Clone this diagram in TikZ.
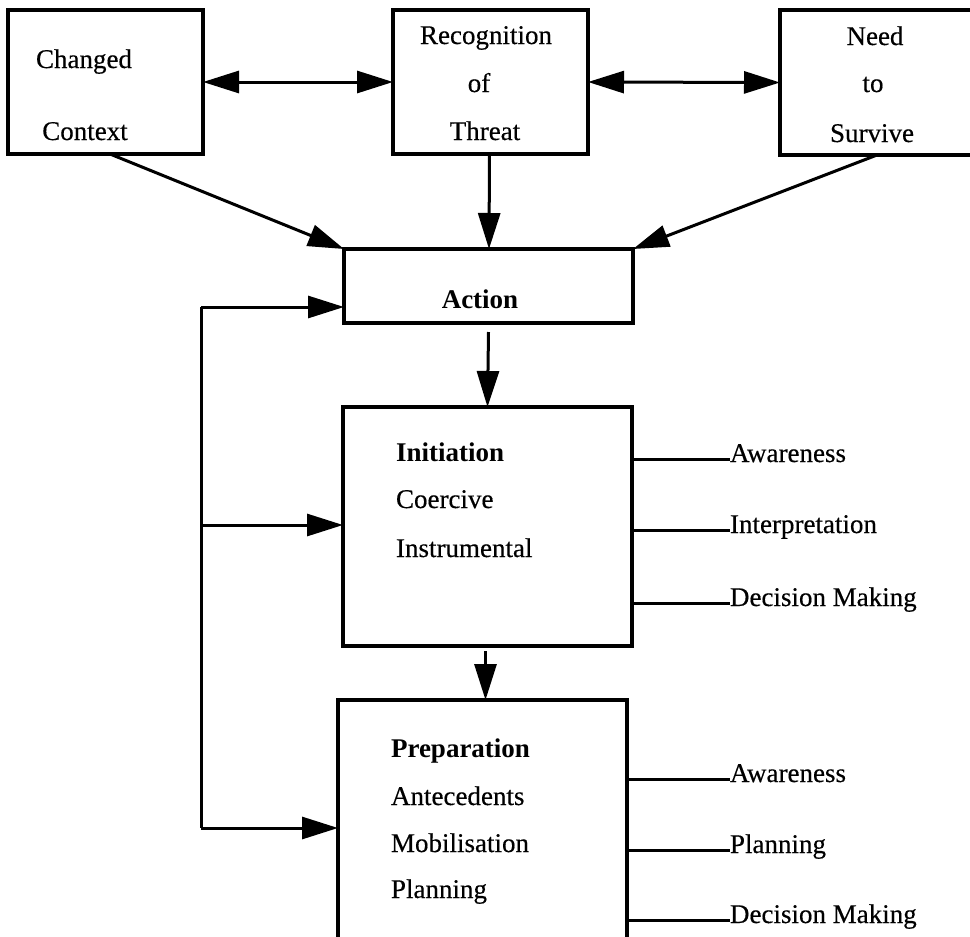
\documentclass[tikz,border=0pt]{standalone}
\usepackage{fontspec}
\setmainfont{Liberation Serif}[FakeBold=0.4, BoldFeatures={FakeBold=0}]
\usetikzlibrary{arrows.meta,calc}

\tikzset{
  >={Triangle[length=36pt,width=22pt]},
  box/.style={draw, line width=3.4pt, rectangle, inner sep=0pt, outer sep=0pt},
  link/.style={line width=3pt},
  lbl/.style={inner sep=0pt, outer sep=0pt, font=\fontsize{27}{30}\selectfont},
  ttl/.style={lbl, font=\fontsize{27}{30}\selectfont\bfseries}
}

\begin{document}
\begin{tikzpicture}[x=1pt, y=-1pt]
  \useasboundingbox (0,0) rectangle (970,937);
  \fill[white] (0,0) rectangle (970,937);

  % top row of boxes
  \node[box, minimum width=195pt, minimum height=144pt] (chg)  at (105.5,82) {};
  \node[box, minimum width=195pt, minimum height=144pt] (rec)  at (490.5,82) {};
  \node[box, minimum width=192pt, minimum height=145pt] (need) at (876,82.5) {};

  \node[lbl, anchor=base] (t1a) at (84,68)  {Changed};
  \node[lbl, anchor=base] (t1b) at (85,140) {Context};
  \node[lbl, anchor=base] (t2a) at (486,44) {Recognition};
  \node[lbl, anchor=base] (t2b) at (479,92) {of};
  \node[lbl, anchor=base] (t2c) at (485,140) {Threat};
  \node[lbl, anchor=base] (t3a) at (875,45) {Need};
  \node[lbl, anchor=base] (t3b) at (873,92) {to};
  \node[lbl, anchor=base] (t3c) at (872,142) {Survive};

  % central column
  \node[box, minimum width=289pt, minimum height=74pt]  (act)  at (488.5,286) {};
  \node[ttl, anchor=base] (tact) at (480,308) {Action};

  \node[box, minimum width=289pt, minimum height=239pt] (ini)  at (487.5,526.5) {};
  \node[ttl, anchor=base west] (ti1) at (396,461) {Initiation};
  \node[lbl, anchor=base west] (ti2) at (396,508) {Coercive};
  \node[lbl, anchor=base west] (ti3) at (396,557) {Instrumental};

  \node[box, minimum width=289pt, minimum height=270pt] (prep) at (482.5,835) {};
  \node[ttl, anchor=base west] (tp1) at (391,757) {Preparation};
  \node[lbl, anchor=base west] (tp2) at (391,805) {Antecedents};
  \node[lbl, anchor=base west] (tp3) at (391,852) {Mobilisation};
  \node[lbl, anchor=base west] (tp4) at (391,898) {Planning};

  % side labels
  \node[lbl, anchor=base west] (ia) at (730,462) {Awareness};
  \node[lbl, anchor=base west] (ib) at (730,533) {Interpretation};
  \node[lbl, anchor=base west] (ic) at (730,606) {Decision Making};
  \node[lbl, anchor=base west] (pa) at (730,782) {Awareness};
  \node[lbl, anchor=base west] (pb) at (730,853) {Planning};
  \node[lbl, anchor=base west] (pc) at (730,923) {Decision Making};

  % links between the top boxes
  \draw[link, <->] (chg.east) -- (rec.west);
  \draw[link, <->] (rec.east) -- (need.west);

  % links into Action
  \draw[link, ->] ([xshift=4.5pt]chg.south) -- (act.north west);
  \draw[link, ->] ([xshift=1pt]need.south) -- (act.north east);
  \draw[link, ->] ([xshift=-1pt]rec.south) -- ([xshift=0.5pt]act.north);

  % down the column
  \draw[link, ->] ([yshift=-9pt]act.south) -- (ini.north);
  \draw[link, ->] ([xshift=-2pt,yshift=-5pt]ini.south) -- ([xshift=3pt]prep.north);

  % feedback loop on the left
  \coordinate (fbtop) at (201,307);
  \coordinate (fbmid) at (201,525);
  \coordinate (fbbot) at (201,828);
  \draw[link] (fbtop) -- (fbbot);
  \draw[link, ->] (fbtop) -- (fbtop -| act.west);
  \draw[link, ->] (fbmid) -- (fbmid -| ini.west);
  \draw[link, ->] (fbbot) -- (fbbot -| prep.west);

  % side label ticks
  \foreach \n/\b in {ia/ini, ib/ini, ic/ini, pa/prep, pb/prep, pc/prep}
    \draw[link] (\b.east |- \n.mid west) -- (\n.mid west);
\end{tikzpicture}
\end{document}
